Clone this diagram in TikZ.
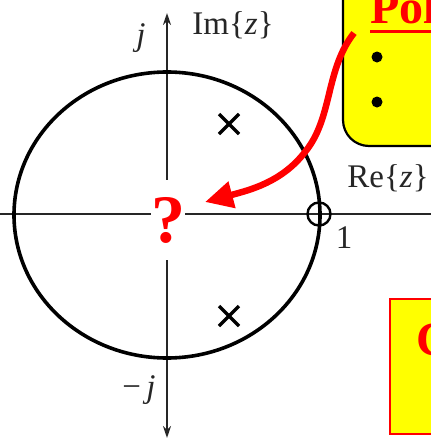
\documentclass[tikz,border=0pt]{standalone}
\usepackage{fontspec}
\setmainfont{Liberation Serif}
\usetikzlibrary{arrows.meta,calc}
\definecolor{boxyellow}{HTML}{FFFF00}
\definecolor{hotred}{HTML}{FF0000}
\tikzset{
  axis/.style={line width=2.1pt, draw=black!85},
  unitcircle/.style={line width=3.6pt, draw=black},
  polemark/.style={line width=3.4pt, draw=black, line cap=butt},
  lbl/.style={font=\fontsize{33}{36}\selectfont, text=black!85, inner sep=0pt},
  callout/.style={line width=6.5pt, draw=hotred, -{Triangle[length=28pt,width=26pt]}},
}
\begin{document}
\begin{tikzpicture}[x=1pt,y=-1pt]
\useasboundingbox (0,0) rectangle (431,442);
\clip (0,0) rectangle (431,442);
% boxes
\draw[line width=2.2pt, fill=boxyellow, rounded corners=26pt] (343,-40) rectangle (480,146);
\node[anchor=base west, inner sep=0pt, text=hotred, font=\fontsize{48}{50}\selectfont\bfseries] (poletitle) at (370,23) {Pole};
\draw[hotred, line width=3pt] (370,31) -- (440,31);
\fill (377,57) circle (5.5pt);
\fill (377,102) circle (5.5pt);
\draw[line width=2.4pt, draw=hotred, fill=boxyellow] (390,299) rectangle (480,434);
\node[anchor=base west, inner sep=0pt, text=hotred, font=\fontsize{48}{50}\selectfont\bfseries] (othertitle) at (416,355) {C};
% axes
\coordinate (xl) at (-5,214);
\coordinate (xr) at (440,214);
\coordinate (yt) at (167,13);
\coordinate (yb) at (167,438);
\draw[axis] (xl) -- (xr);
\draw[axis, {Stealth[length=12pt,width=8pt]}-{Stealth[length=12pt,width=8pt]}] (yb) -- (yt);
% unit circle
\coordinate (o) at (167,215);
\draw[unitcircle] (o) ellipse [x radius=153pt, y radius=143pt];
% poles
\foreach \n/\py in {p1/124, p2/316} {
  \coordinate (\n) at (229,\py);
  \draw[polemark] ($(\n)+(-10,-10)$) -- ($(\n)+(10,10)$);
  \draw[polemark] ($(\n)+(-10,10)$) -- ($(\n)+(10,-10)$);
}
% zero
\node[circle, draw=black, line width=2.4pt, minimum size=23pt, inner sep=0pt] (zero) at (319,214) {};
% labels
\node[lbl] (im) at (233,25) {Im\{\textit{z}\}};
\node[lbl] (jp) at (141,38) {\textit{j}};
\node[lbl] (re) at (388,178) {Re\{\textit{z}\}};
\node[lbl] (one) at (344,238) {1};
\node[lbl] (jm) at (139,390) {−\,\textit{j}};
% question mark
\node[fill=white, inner sep=0pt, minimum width=33pt, minimum height=80pt, text=hotred, font=\fontsize{68}{68}\selectfont\bfseries] (q) at (168,220) {?};
% callout arrow
\coordinate (cs) at (354,33);
\coordinate (ctip) at (205,202);
\draw[callout] (cs) .. controls (325,70) and (333,118) .. (305,152) .. controls (282,182) and (250,190) .. (ctip);
\end{tikzpicture}
\end{document}
